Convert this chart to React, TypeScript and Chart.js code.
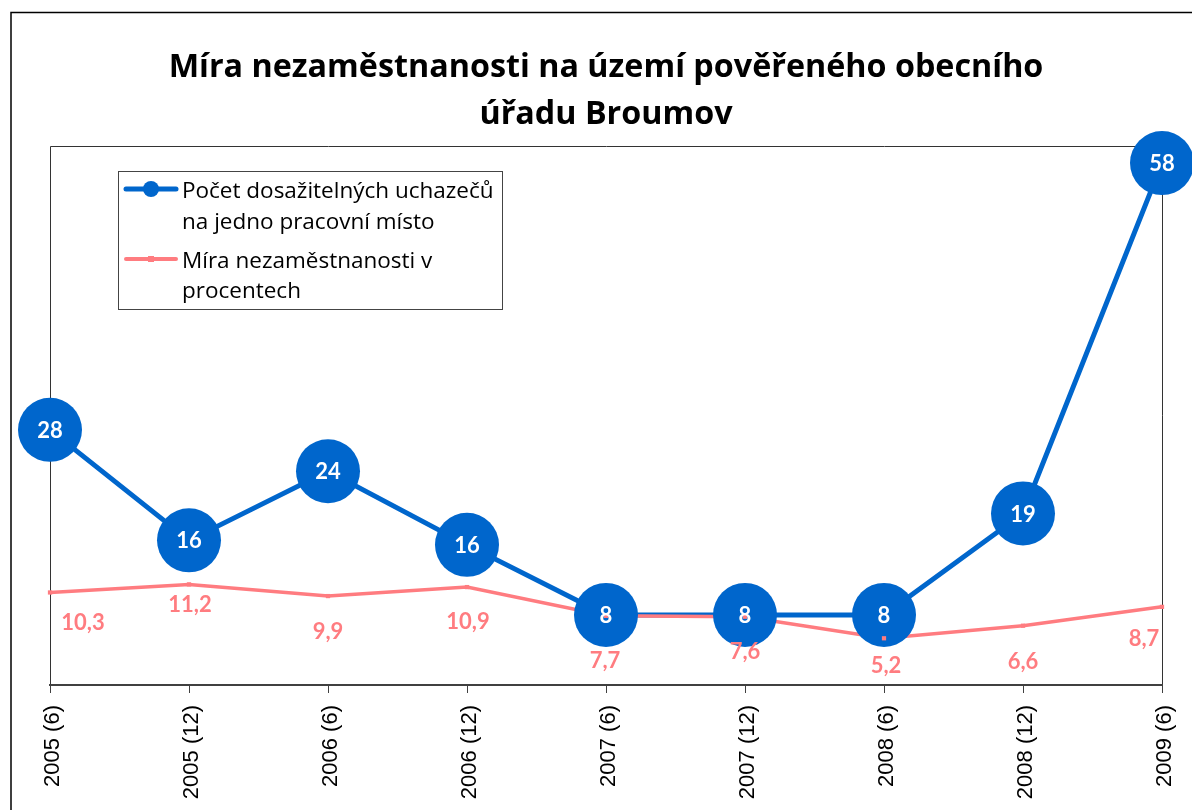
import React, { useEffect, useRef } from 'react';
import { Chart, registerables } from 'chart.js';

Chart.register(...registerables);

// ---- data ----
const categories = ['2005 (6)', '2005 (12)', '2006 (6)', '2006 (12)', '2007 (6)', '2007 (12)', '2008 (6)', '2008 (12)', '2009 (6)'];
const applicantsPerJob = [28.4, 16.1, 23.8, 15.6, 7.8, 7.8, 7.8, 19.1, 58.1];
const unemploymentRate = [10.3, 11.2, 9.9, 10.9, 7.7, 7.6, 5.2, 6.6, 8.7];
const titleLines = ['Míra nezaměstnanosti na území pověřeného obecního', 'úřadu Broumov'];
const applicantsLegend = ['Počet dosažitelných uchazečů', 'na jedno pracovní místo'];
const rateLegend = ['Míra nezaměstnanosti v', 'procentech'];
const yMin = 0;
const yMax = 60;

// ---- layout of pink data labels (offset from the point) ----
const rateLabelOffsets: [number, number][] = [
  [33, 30], [1, 21], [0, 36], [1, 35], [-1, 45], [0, 35], [2, 28], [0, 36], [-18, 32],
];

const BLUE = '#0066CC';
const PINK = '#FF7C80';
const CANVAS_W = 1210;
const CANVAS_H = 830;

const decorPlugin = {
  id: 'decor',
  beforeDraw(chart: any) {
    const ctx = chart.ctx as CanvasRenderingContext2D;
    ctx.save();
    ctx.fillStyle = '#fff';
    ctx.fillRect(0, 0, chart.width, chart.height);
    ctx.strokeStyle = '#000';
    ctx.lineWidth = 1.5;
    ctx.strokeRect(11, 12.5, 1192, 815);
    ctx.fillStyle = '#000';
    ctx.font = 'bold 32.3px "Open Sans", Lato, sans-serif';
    ctx.textAlign = 'center';
    ctx.textBaseline = 'alphabetic';
    ctx.fillText(titleLines[0], 606, 77);
    ctx.fillText(titleLines[1], 606, 124);
    const a = chart.chartArea;
    ctx.strokeStyle = '#333';
    ctx.lineWidth = 1;
    ctx.beginPath();
    ctx.moveTo(Math.round(a.left) + 0.5, a.bottom);
    ctx.lineTo(Math.round(a.left) + 0.5, Math.round(a.top) + 0.5);
    ctx.lineTo(Math.round(a.right) + 0.5, Math.round(a.top) + 0.5);
    ctx.lineTo(Math.round(a.right) + 0.5, a.bottom);
    ctx.stroke();
    ctx.restore();
  },
  afterDatasetsDraw(chart: any) {
    const ctx = chart.ctx as CanvasRenderingContext2D;
    ctx.save();
    ctx.textAlign = 'center';
    ctx.textBaseline = 'middle';
    ctx.font = 'bold 22px Lato, "Open Sans", sans-serif';
    const bluePts = chart.getDatasetMeta(2).data;
    ctx.fillStyle = '#fff';
    applicantsPerJob.forEach((v, i) => {
      const p = bluePts[i];
      ctx.fillText(String(Math.round(v)), p.x, p.y + 1);
    });
    const pinkPts = chart.getDatasetMeta(3).data;
    ctx.fillStyle = PINK;
    unemploymentRate.forEach((v, i) => {
      const p = pinkPts[i];
      const [dx, dy] = rateLabelOffsets[i];
      ctx.fillText(v.toFixed(1).replace('.', ','), p.x + dx, p.y + dy);
    });
    ctx.restore();
  },
  afterDraw(chart: any) {
    const ctx = chart.ctx as CanvasRenderingContext2D;
    ctx.save();
    ctx.fillStyle = '#fff';
    ctx.fillRect(118.5, 171.5, 384, 138);
    ctx.strokeStyle = '#444';
    ctx.lineWidth = 1;
    ctx.strokeRect(118.5, 171.5, 384, 138);
    // blue symbol
    ctx.strokeStyle = BLUE;
    ctx.lineWidth = 5;
    ctx.lineCap = 'round';
    ctx.beginPath();
    ctx.moveTo(126, 189);
    ctx.lineTo(176, 189);
    ctx.stroke();
    ctx.fillStyle = BLUE;
    ctx.beginPath();
    ctx.arc(151, 189, 8, 0, Math.PI * 2);
    ctx.fill();
    // pink symbol
    ctx.strokeStyle = PINK;
    ctx.lineWidth = 4;
    ctx.beginPath();
    ctx.moveTo(126, 259);
    ctx.lineTo(176, 259);
    ctx.stroke();
    ctx.fillStyle = PINK;
    ctx.fillRect(148, 256, 6, 6);
    // text
    ctx.fillStyle = '#000';
    ctx.font = '22.5px "Open Sans", Lato, sans-serif';
    ctx.textAlign = 'left';
    ctx.textBaseline = 'middle';
    ctx.fillText(applicantsLegend[0], 182, 192);
    ctx.fillText(applicantsLegend[1], 182, 223);
    ctx.fillText(rateLegend[0], 182, 262);
    ctx.fillText(rateLegend[1], 182, 292);
    ctx.restore();
  },
};

export default function App() {
  const ref = useRef<HTMLCanvasElement | null>(null);
  useEffect(() => {
    if (!ref.current) return;
    const chart = new Chart(ref.current, {
      type: 'line',
      data: {
        labels: categories,
        datasets: [
          {
            label: 'applicants-line',
            data: applicantsPerJob,
            borderColor: BLUE,
            borderWidth: 5,
            pointRadius: 0,
            tension: 0,
            order: 4,
            clip: false as any,
          },
          {
            label: 'rate-line',
            data: unemploymentRate,
            borderColor: PINK,
            borderWidth: 3.5,
            pointRadius: 0,
            tension: 0,
            order: 3,
            clip: false as any,
          },
          {
            label: 'applicants-points',
            data: applicantsPerJob,
            showLine: false,
            pointRadius: 32,
            pointBackgroundColor: BLUE,
            pointBorderWidth: 0,
            pointBorderColor: BLUE,
            order: 2,
            clip: false as any,
          },
          {
            label: 'rate-points',
            data: unemploymentRate,
            showLine: false,
            pointStyle: 'rect',
            pointRadius: 3,
            pointBackgroundColor: PINK,
            pointBorderWidth: 0,
            pointBorderColor: PINK,
            order: 1,
            clip: false as any,
          },
        ],
      },
      options: {
        animation: false,
        responsive: false,
        devicePixelRatio: 1,
        events: [],
        layout: { padding: { left: 50, right: 48, top: 146, bottom: 0 } },
        plugins: {
          legend: { display: false },
          title: { display: false },
          tooltip: { enabled: false },
        },
        scales: {
          x: {
            type: 'category',
            offset: false,
            ticks: {
              color: '#000',
              font: { family: '"Liberation Sans", Arial, sans-serif', size: 22 },
              minRotation: 90,
              maxRotation: 90,
              autoSkip: false,
              padding: 12,
              labelOffset: 3,
            },
            grid: {
              display: true,
              drawOnChartArea: false,
              drawTicks: true,
              tickLength: 8,
              color: '#404040',
              lineWidth: 1,
            },
            border: { display: true, color: '#404040', width: 2 },
            afterFit: (s: any) => {
              s.height = CANVAS_H - 685;
            },
          },
          y: {
            display: false,
            min: yMin,
            max: yMax,
          },
        },
      },
      plugins: [decorPlugin],
    });
    return () => chart.destroy();
  }, []);
  return (
    <div style={{ position: 'fixed', left: 0, top: 0, width: 1192, height: 810, overflow: 'hidden', background: '#fff' }}>
      <canvas ref={ref} width={CANVAS_W} height={CANVAS_H} style={{ width: CANVAS_W, height: CANVAS_H, display: 'block' }} />
    </div>
  );
}
